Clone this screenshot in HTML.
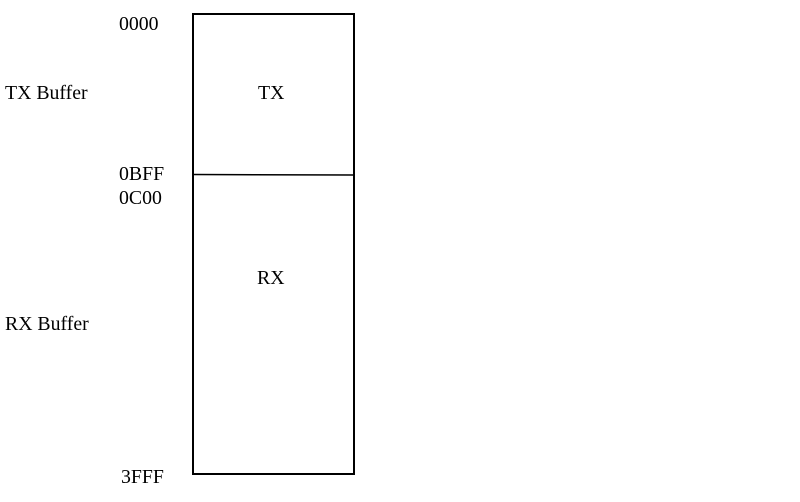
<!DOCTYPE html>
<html><head><style>
body{margin:0;width:800px;height:502px;background:#fff;position:relative;overflow:hidden;font-family:"Liberation Serif",serif;font-size:19.8px;color:#000}
.t{position:absolute;line-height:1;white-space:nowrap}
</style></head><body>
<svg width="800" height="502" style="position:absolute;left:0;top:0">
<rect x="193" y="14" width="161" height="460" fill="none" stroke="#000" stroke-width="2"/>
<line x1="193" y1="174.5" x2="354" y2="175" stroke="#000" stroke-width="1.5"/>
</svg>
<div class="t" style="left:119px;top:15px">0000</div>
<div class="t" style="left:5px;top:84px">TX Buffer</div>
<div class="t" style="left:258px;top:84px">TX</div>
<div class="t" style="left:119px;top:165px">0BFF</div>
<div class="t" style="left:119px;top:189px">0C00</div>
<div class="t" style="left:257px;top:269px">RX</div>
<div class="t" style="left:5px;top:315px">RX Buffer</div>
<div class="t" style="left:121px;top:468px">3FFF</div>
</body></html>
